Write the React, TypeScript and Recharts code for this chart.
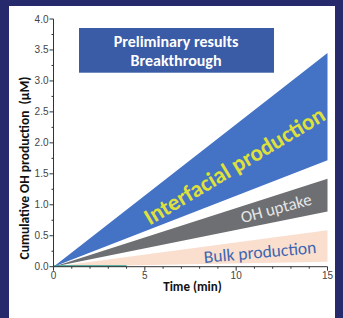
import React from "react";
import { Area, ComposedChart, Line, XAxis, YAxis } from "recharts";

const W = 343;
const H = 318;
const NAVY = "#262a6c";
const BLUE = "#4472c4";
const GRAY = "#6e6f72";
const PEACH = "#fadfcf";
const AXIS = "#333";
const TICK_TXT = "#444";
const CAL = "Carlito, Calibri, Lato, sans-serif";

// data
const times = [0, 15];
const interfacialLow = [0, 1.72];
const interfacialHigh = [0, 3.45];
const uptakeLow = [0, 0.89];
const uptakeHigh = [0, 1.42];
const bulkLow = [0, 0.08];
const bulkHigh = [0, 0.59];
const tealTimes = [0, 4];
const tealValues = [0.01, 0.01];

const xTicks = Array.from({ length: 16 }, (_, i) => i);
const yTicks = Array.from({ length: 17 }, (_, i) => i * 0.25);

const data = times.map((t, i) => ({
  t,
  interfacial: [interfacialLow[i], interfacialHigh[i]],
  uptake: [uptakeLow[i], uptakeHigh[i]],
  bulk: [bulkLow[i], bulkHigh[i]],
}));
const teal = tealTimes.map((t, i) => ({ t, v: tealValues[i] }));

function XTick({ x, y, payload }: any) {
  const major = payload.value % 5 === 0;
  return (
    <g>
      <line x1={x} x2={x} y1={y} y2={y + (major ? 4 : 2)} stroke={AXIS} />
      {major && (
        <text x={x} y={y + 12} textAnchor="middle" fontSize={10} fill={TICK_TXT} fontFamily="Liberation Sans, Arial">
          {payload.value}
        </text>
      )}
    </g>
  );
}

function YTick({ x, y, payload }: any) {
  const major = Math.abs((payload.value * 2) % 1) < 1e-6;
  return (
    <g>
      <line x1={x - (major ? 4 : 2)} x2={x} y1={y} y2={y} stroke={AXIS} />
      {major && (
        <text x={x - 5} y={y + 3.5} textAnchor="end" fontSize={10} fill={TICK_TXT} fontFamily="Liberation Sans, Arial">
          {payload.value.toFixed(1)}
        </text>
      )}
    </g>
  );
}

export default function App() {
  return (
    <div style={{ position: "absolute", left: 0, top: 0, width: W, height: H, background: NAVY }}>
      <div style={{ position: "absolute", left: 9, top: 6, width: 326, height: 312, background: "#fff" }} />
      <div style={{ position: "absolute", left: 0, top: 0 }}>
        <ComposedChart width={W} height={H} data={data} margin={{ top: 19, right: 15.5, bottom: 0, left: 0 }}>
          <XAxis
            dataKey="t"
            type="number"
            domain={[0, 15]}
            ticks={xTicks}
            interval={0}
            tick={<XTick />}
            tickLine={false}
            tickSize={0}
            tickMargin={0}
            axisLine={{ stroke: AXIS }}
            height={51.3}
          />
          <YAxis
            type="number"
            domain={[0, 4]}
            ticks={yTicks}
            interval={0}
            tick={<YTick />}
            tickLine={false}
            tickSize={0}
            tickMargin={0}
            axisLine={{ stroke: AXIS }}
            width={53.5}
          />
          <Area dataKey="bulk" type="linear" stroke="none" fill={PEACH} fillOpacity={1} isAnimationActive={false} />
          <Area dataKey="uptake" type="linear" stroke="none" fill={GRAY} fillOpacity={1} isAnimationActive={false} />
          <Area dataKey="interfacial" type="linear" stroke="none" fill={BLUE} fillOpacity={1} isAnimationActive={false} />
          <Line data={teal} dataKey="v" stroke="#2a9d8f" strokeWidth={1.5} dot={false} isAnimationActive={false} />
        </ComposedChart>
      </div>
      <svg width={W} height={H} style={{ position: "absolute", left: 0, top: 0, pointerEvents: "none" }}>
        <rect x={79} y={28} width={195} height={44.7} fill="#3a5ba6" />
        <text x={176} y={47} textAnchor="middle" fontSize={16} fontWeight="bold" fill="#fff" fontFamily={CAL}>
          Preliminary results
        </text>
        <text x={176} y={66} textAnchor="middle" fontSize={16} fontWeight="bold" fill="#fff" fontFamily={CAL}>
          Breakthrough
        </text>
        <text
          x={234.5}
          y={173.5}
          textAnchor="middle"
          fontSize={23}
          fontWeight="bold"
          fill="#dfe13a"
          fontFamily={CAL}
          transform="rotate(-31 234.5 166)"
        >
          Interfacial production
        </text>
        <text x={276} y={214} textAnchor="middle" fontSize={17} fill="#e6e6e6" fontFamily={CAL} transform="rotate(-15 276 208)">
          OH uptake
        </text>
        <text x={260} y={258} textAnchor="middle" fontSize={17.5} fill="#3d66b0" fontFamily={CAL} transform="rotate(-5 260 252)">
          Bulk production
        </text>
        <text
          x={0}
          y={0}
          textAnchor="middle"
          fontSize={13.5}
          fontWeight="bold"
          fill="#111"
          fontFamily={CAL}
          transform="translate(29 168) rotate(-90)"
          style={{ whiteSpace: "pre" }}
        >
          {"Cumulative OH production  (\u00b5M)"}
        </text>
        <text x={192.5} y={291} textAnchor="middle" fontSize={13} fontWeight="bold" fill="#111" fontFamily={CAL}>
          Time (min)
        </text>
      </svg>
    </div>
  );
}
